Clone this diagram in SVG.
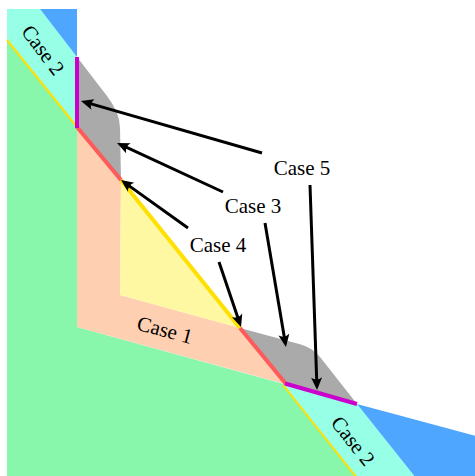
<svg xmlns="http://www.w3.org/2000/svg" width="475" height="476" viewBox="0 0 475 476">
<style>
.lbl{font-family:"Liberation Serif","DejaVu Serif",serif;font-size:21px;fill:#000;text-anchor:middle}
.arrow{stroke:#000;stroke-width:3;fill:none;marker-end:url(#ah)}
.thin{stroke:#ffe000;stroke-width:2;fill:none}
.thick{stroke-width:4;fill:none;stroke-linecap:butt}
</style>
<defs>
<marker id="ah" markerUnits="userSpaceOnUse" viewBox="-13 -7 14 14" refX="-7" refY="0" markerWidth="14" markerHeight="14" orient="auto">
<path d="M0,0 L-12.5,-5.5 Q-8.5,0 -12.5,5.5 Z" fill="#000"/>
</marker>
</defs>
<rect width="475" height="476" fill="#fff"/>
<g id="regions">
<polygon id="green" points="7,40 77,127 77,327 284,384 357,478 7,478" fill="#88f7ac"/>
<polygon id="cyan-top" points="7,9 40,9 77,57 77,127 7,40" fill="#96ffe6"/>
<polygon id="blue-top" points="40,9 77,9 77,57" fill="#4ea6ff"/>
<polygon id="cyan-bottom" points="284,384 357,404 416,478 357,478" fill="#96ffe6"/>
<polygon id="blue-bottom" points="357,404 476,436 476,478 416,478" fill="#4ea6ff"/>
<polygon id="peach" points="77,127 121,180 120,295 240,328 285,384 77,327" fill="#ffcfb2"/>
<polygon id="yellow" points="121,180 120,295 240,328" fill="#fff8a2"/>
<path id="gray-top" d="M77,57 L107,96 Q120,113 120,128 L121,180 L77,127 Z" fill="#aaaaaa"/>
<path id="gray-bottom" d="M240,328 L300,344.2 Q312.6,347.6 320,357 L357,404 L286,384 Z" fill="#aaaaaa"/>
</g>
<g id="edges">
<line class="thin" x1="7" y1="40" x2="77" y2="127"/>
<line class="thin" x1="283" y1="385" x2="357" y2="478"/>
<line class="thick" stroke="#ffe000" x1="121" y1="180" x2="240" y2="328"/>
<line class="thick" stroke="#ff5a5a" x1="77" y1="127" x2="121" y2="180"/>
<line class="thick" stroke="#ff5a5a" x1="240" y1="328" x2="286" y2="384"/>
<line class="thick" stroke="#cc00cc" x1="77" y1="57" x2="77" y2="128"/>
<line class="thick" stroke="#cc00cc" x1="285" y1="383.5" x2="357" y2="404"/>
</g>
<g id="labels">
<text id="case2-top" class="lbl" transform="translate(43,50) rotate(53)" y="7">Case 2</text>
<text id="case2-bottom" class="lbl" transform="translate(353,441) rotate(52)" y="7">Case 2</text>
<text id="case1" class="lbl" transform="translate(165,330) rotate(15)" y="7">Case 1</text>
<text id="case5" class="lbl" x="302" y="175">Case 5</text>
<text id="case3" class="lbl" x="253" y="213">Case 3</text>
<text id="case4" class="lbl" x="218" y="252">Case 4</text>
</g>
<g id="connectors">
<line class="arrow" x1="262" y1="153" x2="87.7" y2="102.9"/>
<line class="arrow" x1="310" y1="185" x2="316.8" y2="383"/>
<line class="arrow" x1="223" y1="192" x2="123.4" y2="145.9"/>
<line class="arrow" x1="265" y1="223" x2="284.8" y2="340.1"/>
<line class="arrow" x1="188" y1="228" x2="126.7" y2="184.1"/>
<line class="arrow" x1="219" y1="262" x2="238.8" y2="320.4"/>
</g>
</svg>
